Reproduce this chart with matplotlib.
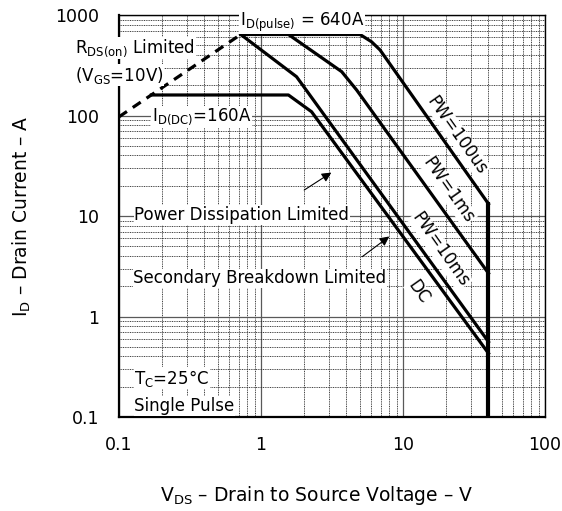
import matplotlib
matplotlib.use("Agg")
import matplotlib.pyplot as plt
from matplotlib.ticker import FixedLocator, FixedFormatter, LogLocator, NullFormatter

plt.rcParams['font.family'] = ['DejaVu Sans']
plt.rcParams['mathtext.default'] = 'regular'

# safe operating area curves (V_DS in V, I_D in A)
rds_v = [0.1, 0.72]
rds_i = [97, 640]

dc_v = [0.169, 1.56, 2.27, 40]
dc_i = [160, 160, 109, 0.43]

pw10ms_v = [0.72, 1.78, 40]
pw10ms_i = [640, 243, 0.56]

pw1ms_v = [1.56, 3.7, 4.72, 40]
pw1ms_i = [640, 273, 179, 2.69]

pw100us_v = [0.72, 4.98, 6.0, 6.89, 40]
pw100us_i = [640, 640, 542, 449, 13.2]

vmax_v = [40, 40]
vmax_i = [13.2, 0.1]

x_ticks = [0.1, 1, 10, 100]
x_labels = ['0.1', '1', '10', '100']
y_ticks = [0.1, 1, 10, 100, 1000]
y_labels = ['0.1', '1', '10', '100', '1000']

fig = plt.figure(figsize=(5.62, 5.11), dpi=100)
ax = fig.add_axes([119 / 562, 1 - 417 / 511, 426 / 562, 402 / 511])
ax.set_xscale('log')
ax.set_yscale('log')
ax.set_xlim(0.1, 100)
ax.set_ylim(0.1, 1000)

ax.xaxis.set_major_locator(FixedLocator(x_ticks))
ax.xaxis.set_major_formatter(FixedFormatter(x_labels))
ax.yaxis.set_major_locator(FixedLocator(y_ticks))
ax.yaxis.set_major_formatter(FixedFormatter(y_labels))
ax.xaxis.set_minor_locator(LogLocator(base=10, subs=range(2, 10)))
ax.yaxis.set_minor_locator(LogLocator(base=10, subs=range(2, 10)))
ax.xaxis.set_minor_formatter(NullFormatter())
ax.yaxis.set_minor_formatter(NullFormatter())
ax.tick_params(which='both', length=0)
ax.tick_params(axis='x', pad=14, labelsize=12.5)
ax.tick_params(axis='y', pad=14, labelsize=12.5)

ax.grid(True, which='major', color='0.35', lw=0.9, ls='-')
ax.grid(True, which='minor', color='0.15', lw=0.6, ls=(0, (1.2, 0.9)))
ax.set_axisbelow(True)

for s in ['left', 'bottom']:
    ax.spines[s].set_linewidth(1.6)
for s in ['top', 'right']:
    ax.spines[s].set_linewidth(1.0)

lw = 2.3
ax.plot(rds_v, rds_i, color='black', lw=lw, ls=(0, (3, 2.2)), zorder=3)
ax.plot(dc_v, dc_i, color='black', lw=lw, zorder=3)
ax.plot(pw10ms_v, pw10ms_i, color='black', lw=lw, zorder=3)
ax.plot(pw1ms_v, pw1ms_i, color='black', lw=lw, zorder=3)
ax.plot(pw100us_v, pw100us_i, color='black', lw=lw, zorder=3)
ax.plot(vmax_v, vmax_i, color='black', lw=3.0, zorder=3)

box = dict(facecolor='white', edgecolor='none', pad=0.5)
fs = 12

ax.text(0.71, 850, r'I$_{D(pulse)}$ = 640A', fontsize=fs, va='center', ha='left', bbox=box, zorder=4)
ax.text(0.17, 97, r'I$_{D(DC)}$=160A', fontsize=fs, va='center', ha='left', bbox=box, zorder=4)
ax.text(0.128, 10.2, 'Power Dissipation Limited', fontsize=fs, va='center', ha='left', bbox=box, zorder=4)
ax.text(0.126, 2.4, 'Secondary Breakdown Limited', fontsize=fs, va='center', ha='left', bbox=box, zorder=4)
ax.text(0.128, 0.244, r'T$_C$=25°C', fontsize=fs, va='center', ha='left', bbox=box, zorder=4)
ax.text(0.128, 0.129, 'Single Pulse', fontsize=fs, va='center', ha='left', bbox=box, zorder=4)

# labels placed outside the axes to the left
fig.text(75 / 562, 1 - 48 / 511, r'R$_{DS(on)}$ Limited', fontsize=fs, va='center', ha='left',
         bbox=box, zorder=5)
fig.text(75 / 562, 1 - 75 / 511, r'(V$_{GS}$=10V)', fontsize=fs, va='center', ha='left',
         bbox=box, zorder=5)

rot = -54.8
ax.text(24, 64, 'PW=100us', fontsize=fs, rotation=rot, ha='center', va='center', bbox=box, zorder=4)
ax.text(20.8, 18.2, 'PW=1ms', fontsize=fs, rotation=rot, ha='center', va='center', bbox=box, zorder=4)
ax.text(18.2, 4.6, 'PW=10ms', fontsize=fs, rotation=rot, ha='center', va='center', bbox=box, zorder=4)
ax.text(12.8, 1.75, 'DC', fontsize=fs, rotation=rot, ha='center', va='center', bbox=box, zorder=4)

ax.annotate('', xy=(3.25, 28), xytext=(1.94, 17.5),
            arrowprops=dict(arrowstyle='-|>', color='black', lw=0.8, mutation_scale=14), zorder=4)
ax.annotate('', xy=(8.3, 6.5), xytext=(4.98, 3.79),
            arrowprops=dict(arrowstyle='-|>', color='black', lw=0.8, mutation_scale=14), zorder=4)

fig.text(317 / 562, 1 - 495 / 511, r'V$_{DS}$ – Drain to Source Voltage – V', fontsize=13.5,
         ha='center', va='center')
fig.text(22 / 562, 1 - 216 / 511, r'I$_D$ – Drain Current – A', fontsize=13.5,
         ha='center', va='center', rotation=90)

fig.savefig('out.png', dpi=100)
